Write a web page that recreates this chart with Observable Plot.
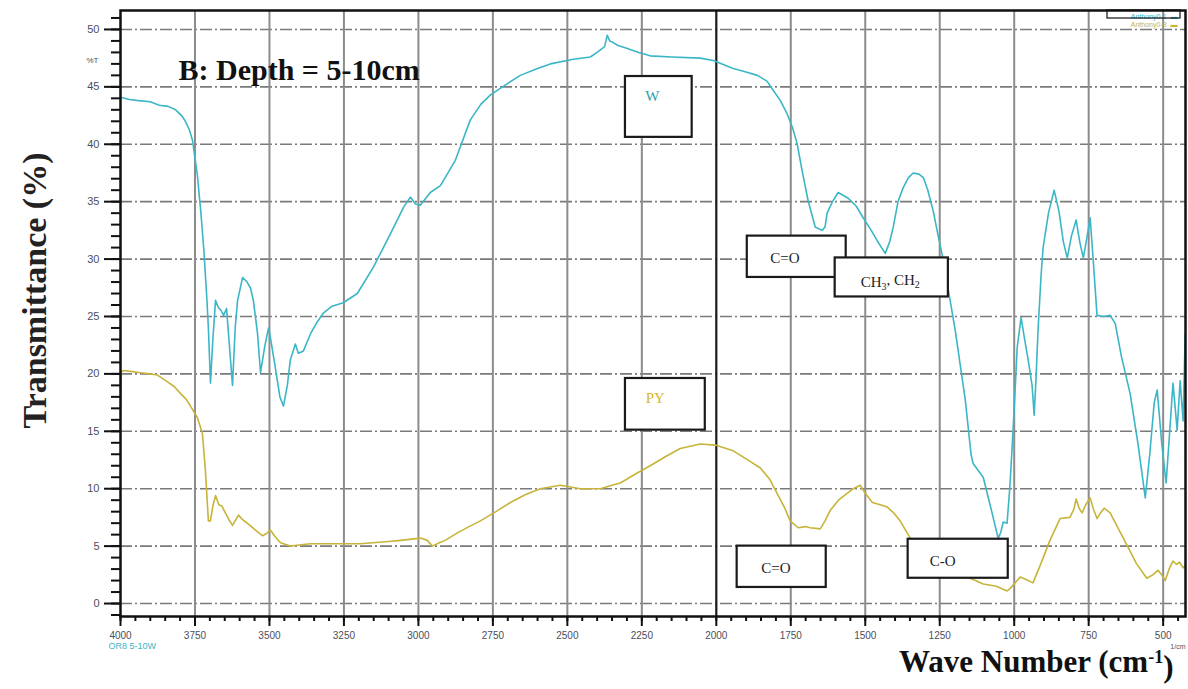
<!DOCTYPE html>
<html><head><meta charset="utf-8">
<script src="https://cdn.jsdelivr.net/npm/d3@7"></script>
<script src="https://cdn.jsdelivr.net/npm/@observablehq/plot@0.6"></script>
<style>body{margin:0;background:#fff;} #chart svg{display:block;}</style>
</head><body><div id="chart"></div>
<script>
// ---- Data ----
const waveW = [4000,3970,3940,3900,3870,3840,3815,3795,3782,3768,3758,3742,3730,3720,3710,3705,3698,3690,3681,3672,3662,3654,3644,3636,3624,3615,3607,3590,3575,3564,3554,3540,3530,3515,3503,3497,3480,3465,3453,3440,3430,3413,3403,3386,3362,3340,3319,3290,3252,3205,3151,3094,3050,3027,3010,2993,2960,2926,2876,2826,2790,2758,2700,2658,2600,2557,2480,2423,2400,2375,2366,2358,2349,2330,2306,2260,2222,2150,2054,2010,1943,1900,1862,1830,1809,1785,1763,1745,1729,1712,1692,1668,1645,1635,1628,1610,1591,1557,1530,1507,1480,1460,1433,1418,1406,1390,1373,1355,1339,1320,1305,1290,1272,1255,1238,1198,1164,1145,1138,1104,1080,1054,1045,1037,1024,1015,1007,998,990,977,965,953,940,933,927,920,910,903,885,866,850,835,822,808,792,780,768,755,745,735,722,700,678,661,640,611,585,560,545,530,520,505,490,478,467,453,443,433,426];
const transW = [44.1,43.9,43.8,43.7,43.4,43.3,43.0,42.5,42.0,41.2,40.3,37.3,34.0,30.7,26.5,24.0,19.2,23.0,26.4,25.8,25.5,25.1,25.7,23.0,19.0,24.0,26.4,28.4,28.0,27.5,26.4,23.5,20.1,22.5,24.0,23.2,20.5,18.0,17.2,19.0,21.2,22.6,21.8,22.0,23.5,24.5,25.3,25.9,26.2,27.0,29.3,32.2,34.5,35.4,34.8,34.7,35.8,36.4,38.6,42.1,43.5,44.3,45.3,46.0,46.6,47.0,47.4,47.6,48.0,48.5,49.5,49.0,48.9,48.6,48.4,48.0,47.7,47.6,47.5,47.3,46.6,46.3,46.0,45.5,44.7,43.8,42.7,41.5,40.1,37.7,35.1,32.8,32.5,32.8,34.0,35.0,35.8,35.3,34.6,33.6,32.5,31.6,30.5,31.5,32.8,35.0,36.2,37.1,37.5,37.4,37.1,36.0,34.2,32.0,29.9,23.8,17.7,13.0,12.2,11.0,8.5,5.7,6.2,7.1,7.0,10.0,13.6,18.0,22.3,24.9,23.0,21.2,19.0,16.4,19.5,23.8,28.5,31.0,34.0,36.0,34.2,31.5,30.1,32.0,33.4,31.5,30.1,32.0,33.6,30.0,25.1,25.0,25.1,24.4,21.5,18.3,14.0,9.2,13.0,17.5,18.6,14.0,10.5,15.0,19.2,15.1,19.4,15.9,23.5];

const wavePY = [4000,3997,3990,3960,3933,3900,3876,3842,3820,3799,3780,3765,3742,3725,3715,3705,3698,3690,3681,3670,3660,3648,3636,3624,3604,3590,3580,3565,3547,3523,3510,3497,3480,3463,3430,3400,3362,3295,3195,3100,3060,2993,2970,2953,2930,2910,2866,2830,2792,2740,2691,2640,2591,2524,2480,2457,2420,2389,2350,2322,2270,2222,2170,2121,2054,2004,1943,1900,1852,1820,1796,1770,1752,1725,1700,1685,1651,1635,1618,1590,1561,1540,1517,1500,1476,1450,1426,1405,1383,1349,1302,1251,1201,1158,1130,1104,1060,1024,1014,980,960,937,910,880,846,813,800,792,782,772,760,745,735,722,710,698,678,650,622,590,555,535,517,505,493,480,467,455,445,433,426];
const transPY = [16.5,20.2,20.3,20.2,20.1,20.0,19.9,19.3,18.9,18.3,17.8,17.2,16.2,14.8,11.6,7.2,7.2,8.5,9.4,8.6,8.5,7.9,7.3,6.8,7.7,7.3,7.1,6.8,6.4,5.9,6.1,6.4,5.8,5.3,5.0,5.1,5.2,5.2,5.2,5.4,5.5,5.7,5.5,5.0,5.3,5.5,6.2,6.7,7.2,8.0,8.8,9.5,10.0,10.3,10.1,10.0,10.0,10.0,10.3,10.5,11.3,12.0,12.8,13.5,13.9,13.8,13.3,12.6,11.8,10.8,9.6,8.3,7.2,6.6,6.7,6.6,6.5,7.2,8.1,9.0,9.6,10.0,10.3,9.6,8.8,8.6,8.4,7.9,7.2,5.7,4.6,3.3,2.4,2.3,2.0,1.7,1.5,1.1,1.3,2.3,2.1,1.8,3.5,5.5,7.4,7.5,8.2,9.1,8.3,7.9,8.6,9.2,8.3,7.4,7.9,8.3,7.9,6.5,5.1,3.5,2.2,2.5,2.9,2.5,2.0,3.0,3.7,3.4,3.6,3.1,3.3];

const xTicks = [4000,3750,3500,3250,3000,2750,2500,2250,2000,1750,1500,1250,1000,750,500];
const yTicks = [0,5,10,15,20,25,30,35,40,45,50];

// annotation boxes (wave number / %T extents) and their labels
const boxLabels = ["W","PY","C=O","CH3, CH2","C=O","C-O"];
const boxColors = ["#2a9fae","#d8b52a","#222","#222","#222","#222"];
const boxX1 = [2305,2305,1896,1601,1930,1356];
const boxX2 = [2081,2037,1564,1221,1631,1020];
const boxY1 = [40.6,15.1,28.4,26.7,1.4,2.2];
const boxY2 = [45.9,19.6,32.0,30.1,5.0,5.6];
const labelX = [2215,2205,1770,1416,1800,1240];
const labelY = [44.2,17.9,30.1,28.0,3.1,3.7];

const legendNames = ["Anthony0-1","Anthony0-3"];
const colW = "#3bb6c6", colPY = "#c7b43a";

// ---- build tables ----
const dataW = waveW.map((w,i)=>({w, t: transW[i]}));
const dataPY = wavePY.map((w,i)=>({w, t: transPY[i]}));
const boxes = boxLabels.map((label,i)=>({label, color: boxColors[i], x1: boxX1[i], x2: boxX2[i], y1: boxY1[i], y2: boxY2[i], lx: labelX[i], ly: labelY[i]}));
const minorX = d3.range(450, 4001, 50);
const minorY = d3.range(-1, 52, 1);

const serif = "'Liberation Serif', 'Times New Roman', serif";
const sans = "'Liberation Sans', Arial, sans-serif";

const chart = Plot.plot({
  width: 1188, height: 689,
  marginLeft: 120, marginRight: 3, marginTop: 10, marginBottom: 73,
  style: {background: "#fff", overflow: "visible"},
  x: {domain: [4000, 425], axis: null},
  y: {domain: [-1.13, 51.65], axis: null},
  marks: [
    Plot.gridY(yTicks, {stroke: "#7a7a7a", strokeOpacity: 1, strokeWidth: 1.6, strokeDasharray: "12,3,2,3"}),
    Plot.gridX(xTicks.filter(d => d !== 2000 && d !== 4000), {stroke: "#8c8c8c", strokeOpacity: 1, strokeWidth: 2}),
    Plot.ruleX([2000], {stroke: "#1a1a1a", strokeWidth: 2.2}),
    Plot.line(dataW, {x: "w", y: "t", stroke: colW, strokeWidth: 1.6}),
    Plot.line(dataPY, {x: "w", y: "t", stroke: colPY, strokeWidth: 1.6}),
    Plot.rect(boxes, {x1: "x1", x2: "x2", y1: "y1", y2: "y2", fill: "white", stroke: "#1a1a1a", strokeWidth: 2.2}),
    Plot.text(boxes, {x: "lx", y: "ly", text: "label", fill: "color", fontFamily: serif, fontSize: 15, fontWeight: (d) => d.label.length < 3 ? "bold" : "normal"}),
    Plot.frame({stroke: "#111", strokeWidth: 2.5}),
    // y axis ticks
    Plot.axisY(minorY, {anchor: "left", tickSize: 9, tickFormat: () => "", stroke: "#111", strokeWidth: 2, label: null}),
    Plot.axisY(yTicks, {anchor: "left", tickSize: 16, tickPadding: 5, tickFormat: d => String(d), stroke: "#111", strokeWidth: 2, fill: "#4b4e5c", fontSize: 11, fontFamily: sans, label: null}),
    // x axis ticks
    Plot.axisX(minorX, {anchor: "bottom", tickSize: 5, tickFormat: () => "", stroke: "#111", strokeWidth: 2, label: null}),
    Plot.axisX(xTicks, {anchor: "bottom", tickSize: 10, tickPadding: 5, tickFormat: d => String(d), stroke: "#111", strokeWidth: 2, fill: "#4b4e5c", fontSize: 10, fontFamily: sans, label: null}),
    // titles and small labels
    Plot.text(["B: Depth = 5-10cm"], {frameAnchor: "top-left", dx: 58, dy: 48, textAnchor: "start", fontFamily: serif, fontWeight: "bold", fontSize: 30, fill: "#111"}),
    Plot.text(["Transmittance (%)"], {frameAnchor: "left", dx: -85, dy: -23, rotate: -90, textAnchor: "middle", fontFamily: serif, fontWeight: "bold", fontSize: 34, fill: "#222"}),
    Plot.text(["Wave Number (cm-1)"], {frameAnchor: "bottom-right", dx: -12, dy: 55, textAnchor: "end", fontFamily: serif, fontWeight: "bold", fontSize: 31, fill: "#111"}),
    Plot.text(["%T"], {frameAnchor: "top-left", dx: -22, dy: 47, textAnchor: "end", fontFamily: sans, fontSize: 8, fill: "#4b4e5c"}),
    Plot.text(["OR8 5-10W"], {frameAnchor: "bottom-left", dx: -12, dy: 32, textAnchor: "start", fontFamily: sans, fontSize: 9, fill: "#3bb6c6"}),
    Plot.text(["1/cm"], {frameAnchor: "bottom-right", dx: 0, dy: 32, textAnchor: "end", fontFamily: sans, fontSize: 7, fill: "#4b4e5c"}),
    Plot.text([legendNames[0] + "  \u25AC"], {frameAnchor: "top-right", dx: -8, dy: 4, textAnchor: "end", fontFamily: sans, fontSize: 7, fill: colW}),
    Plot.text([legendNames[1] + "  \u25AC"], {frameAnchor: "top-right", dx: -8, dy: 12, textAnchor: "end", fontFamily: sans, fontSize: 7, fill: colPY})
  ]
});

// rich text: superscript / subscripts
const svg = d3.select(chart);
svg.selectAll("text").each(function() {
  const t = d3.select(this);
  const s = this.textContent;
  if (s === "Wave Number (cm-1)") {
    t.text(null);
    t.append("tspan").text("Wave Number (cm");
    t.append("tspan").attr("dy", "-0.45em").attr("font-size", "18").text("-1");
    t.append("tspan").attr("dy", "0.45em").text(")");
  } else if (s === "CH3, CH2") {
    t.text(null);
    t.append("tspan").text("CH");
    t.append("tspan").attr("dy", "0.3em").attr("font-size", "10").text("3");
    t.append("tspan").attr("dy", "-0.3em").text(", CH");
    t.append("tspan").attr("dy", "0.3em").attr("font-size", "10").text("2");
  }
});
// legend outline box (small frame round the first legend entry)
svg.append("rect").attr("x", 1107).attr("y", 10).attr("width", 73).attr("height", 8)
  .attr("fill", "none").attr("stroke", "#111").attr("stroke-width", 1.2);

document.getElementById("chart").appendChild(chart);
</script>
</body></html>
